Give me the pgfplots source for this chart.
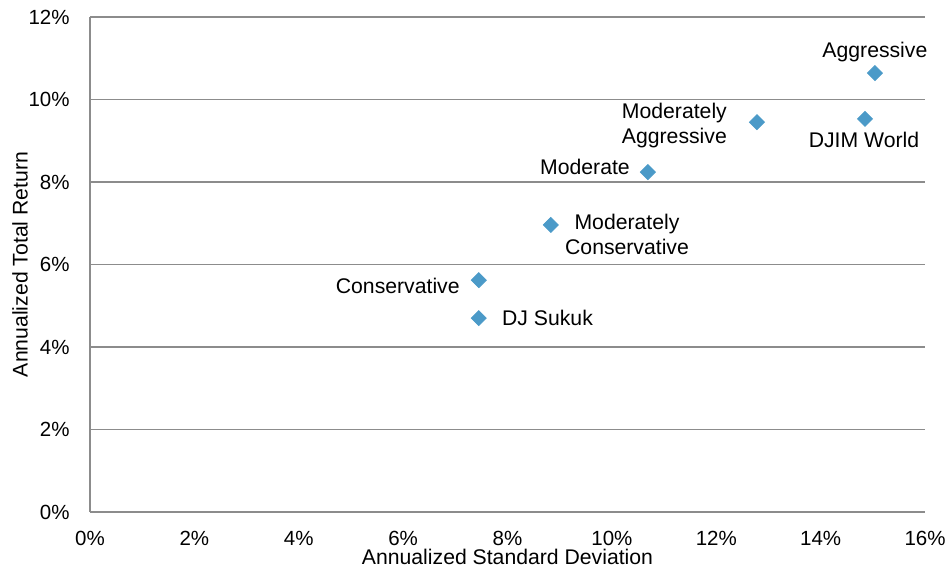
\documentclass[border=0pt]{standalone}
\usepackage{fontspec}
\setmainfont{Liberation Sans}
\usepackage{pgfplots}
\pgfplotsset{compat=1.18}
\definecolor{mk}{HTML}{4B9AC8}
\definecolor{gridc}{HTML}{8C8C8C}
\begin{document}
\fontsize{10.25}{12.5}\selectfont
\begin{tikzpicture}
\path[use as bounding box] (-45pt,-29.5pt) rectangle (427.5pt,256pt);
\begin{axis}[
  at={(0,0)}, anchor=south west,
  scale only axis, width=417.5pt, height=247.5pt,
  xmin=0, xmax=16, ymin=0, ymax=12,
  xtick={0,2,...,16}, ytick={0,2,...,12},
  xticklabel={\pgfmathprintnumber{\tick}\%},
  yticklabel={\pgfmathprintnumber{\tick}\%},
  /pgf/number format/assume math mode=true,
  tick style={draw=none},
  axis x line*=bottom, axis y line*=left,
  axis line style={draw=gridc, line width=0.6pt, -},
  ymajorgrids, grid style={gridc, line width=0.6pt},
  xticklabel style={anchor=north, inner sep=0pt, yshift=-9.5pt},
  yticklabel style={anchor=east, inner sep=0pt, xshift=-10pt},
  xlabel={Annualized Standard Deviation},
  ylabel={Annualized Total Return},
  label style={font=\fontsize{10.6}{12.9}\selectfont},
  xlabel style={at={(axis description cs:0.5,-0.0909)}, anchor=center, inner sep=0pt},
  ylabel style={at={(axis description cs:-0.0838,0.5)}, anchor=center, inner sep=0pt},
  clip=false,
]
\addplot[only marks, mark=square*, mark size=2.65pt,
  mark options={rotate=45, fill=mk, draw=mk}] coordinates {
  (15.04,10.64) (14.85,9.53) (12.78,9.45) (10.69,8.24)
  (8.83,6.96) (7.45,5.62) (7.45,4.70)
};
\begin{scope}[every node/.style={inner sep=0pt, align=center, font=\fontsize{10.6}{12.5}\selectfont}]
\node[anchor=center] at (axis cs:15.04,11.15) {Aggressive};
\node[anchor=center] at (axis cs:14.83,9.02) {DJIM World};
\node[anchor=east] at (axis cs:12.21,9.37) {Moderately\\Aggressive};
\node[anchor=east] at (axis cs:10.35,8.36) {Moderate};
\node[anchor=center] at (axis cs:10.29,6.74) {Moderately\\Conservative};
\node[anchor=east] at (axis cs:7.09,5.48) {Conservative};
\node[anchor=west] at (axis cs:7.89,4.70) {DJ Sukuk};
\end{scope}
\end{axis}
\end{tikzpicture}
\end{document}
